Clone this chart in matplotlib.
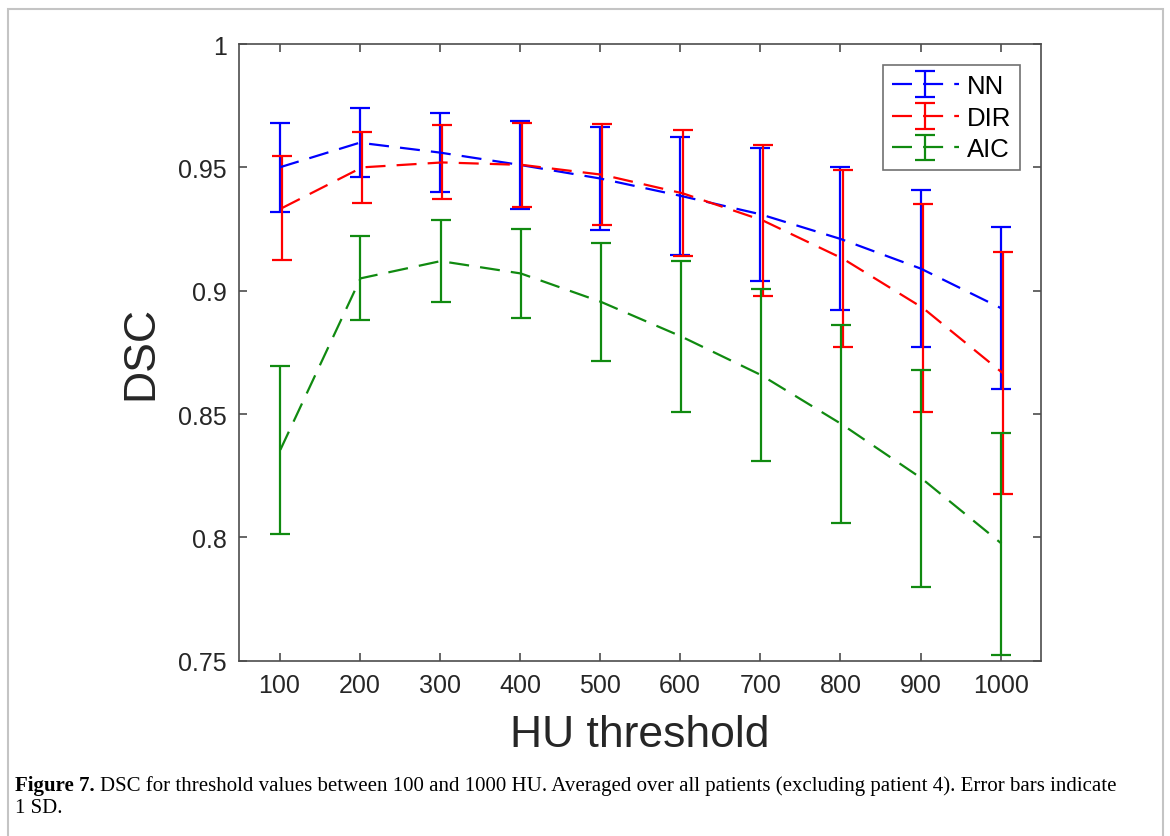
import matplotlib
matplotlib.use('Agg')
import numpy as np
import matplotlib.pyplot as plt
from matplotlib.patches import Rectangle

# HU thresholds
thresholds = [100, 200, 300, 400, 500, 600, 700, 800, 900, 1000]

# mean DSC and 1 SD per method
nn_mean = [0.950, 0.960, 0.956, 0.951, 0.9455, 0.9385, 0.931, 0.921, 0.909, 0.893]
nn_sd = [0.018, 0.014, 0.016, 0.018, 0.021, 0.024, 0.027, 0.029, 0.032, 0.033]

dir_mean = [0.9335, 0.950, 0.952, 0.951, 0.947, 0.9395, 0.9285, 0.913, 0.893, 0.8665]
dir_sd = [0.021, 0.0145, 0.015, 0.017, 0.0205, 0.0255, 0.0305, 0.036, 0.042, 0.049]

aic_mean = [0.8355, 0.905, 0.912, 0.907, 0.8955, 0.8815, 0.8658, 0.846, 0.824, 0.7975]
aic_sd = [0.034, 0.017, 0.0165, 0.018, 0.024, 0.0305, 0.035, 0.040, 0.044, 0.045]

plt.rcParams['font.family'] = ['Liberation Sans', 'DejaVu Sans']

fig = plt.figure(figsize=(11.7, 8.37), dpi=100)
ax = fig.add_axes([0.2047, 0.2094, 0.6848, 0.7368])

axcol = '#4d4d4d'
x = np.array(thresholds)
series = [
    (nn_mean, nn_sd, '#0000ff', 'NN', 0),
    (dir_mean, dir_sd, '#ff0000', 'DIR', 3),
    (aic_mean, aic_sd, '#108a10', 'AIC', 1),
]
for mean, sd, col, name, dx in series:
    ax.errorbar(x + dx, mean, yerr=sd, color=col, linestyle=(0, (9, 5)),
                linewidth=1.6, elinewidth=1.6, capsize=7, capthick=1.6,
                label=name)

ax.set_xlim(50, 1050)
ax.set_ylim(0.75, 1.0)
ax.set_xticks(thresholds)
ax.set_yticks([0.75, 0.8, 0.85, 0.9, 0.95, 1.0])
ax.set_yticklabels(['0.75', '0.8', '0.85', '0.9', '0.95', '1'])
ax.tick_params(direction='in', top=True, right=True, length=6, width=1.2,
               color=axcol, labelsize=18, labelcolor='#262626', pad=9)
for s in ax.spines.values():
    s.set_color(axcol)
    s.set_linewidth(1.2)

ax.set_xlabel('HU threshold', fontsize=32, color='#262626', labelpad=12)
ax.set_ylabel('DSC', fontsize=32, color='#262626', labelpad=12)

leg = ax.legend(loc='upper right', bbox_to_anchor=(0.974, 0.966), fontsize=18.5,
                handlelength=2.6, frameon=True, fancybox=False, borderaxespad=0,
                borderpad=0.35, labelspacing=0.3, handletextpad=0.3)
leg.get_frame().set_edgecolor(axcol)
leg.get_frame().set_linewidth(1.2)

# outer frame of the figure panel
fig.add_artist(Rectangle((8 / 1170, -0.05), 1155 / 1170, 1 - 10 / 837 + 0.05,
                         transform=fig.transFigure, fill=False,
                         edgecolor='#c4c4c4', linewidth=1.5))

# caption
cap = 15
t1 = fig.text(15 / 1170, 1 - 791 / 837, 'Figure 7.', family='Liberation Serif',
              fontweight='bold', fontsize=cap, va='baseline')
ax.annotate('DSC for threshold values between 100 and 1000 HU. Averaged over all patients '
            '(excluding patient 4). Error bars indicate',
            xy=(1, 0), xycoords=t1, xytext=(4, 0), textcoords='offset points',
            family='Liberation Serif', fontsize=cap, va='bottom', annotation_clip=False)
fig.text(15 / 1170, 1 - 813 / 837, '1 SD.', family='Liberation Serif',
         fontsize=cap, va='baseline')

fig.savefig('out.png', dpi=100)
